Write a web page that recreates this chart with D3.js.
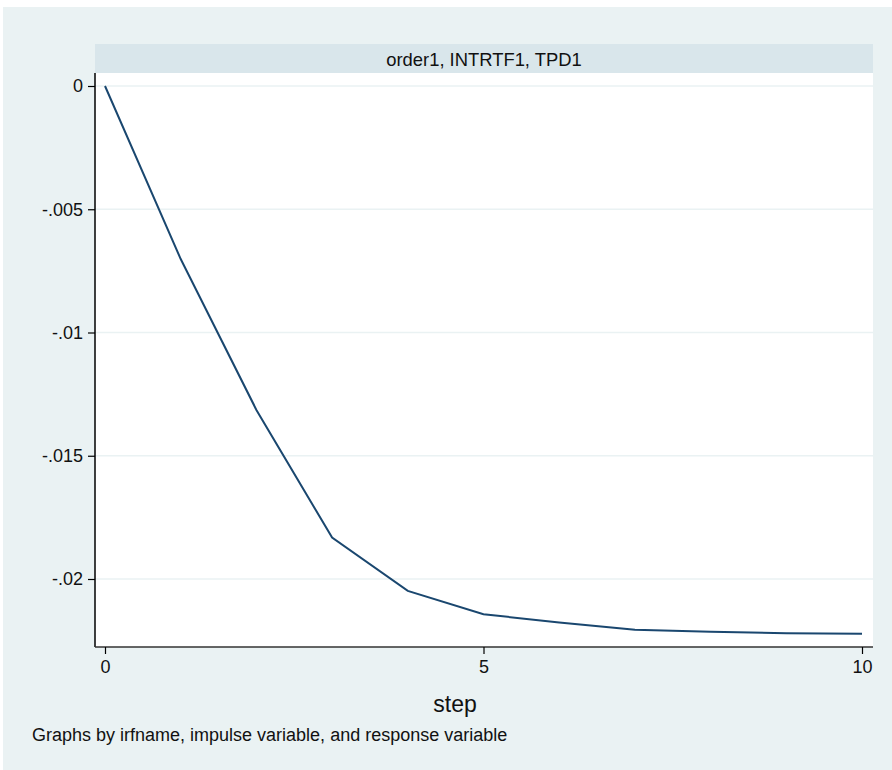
<!DOCTYPE html>
<html><head><meta charset="utf-8">
<script src="https://cdn.jsdelivr.net/npm/d3@7"></script>
<style>body{margin:0;background:#fff}svg{display:block}text{font-family:"Liberation Sans",Arial,sans-serif}</style>
</head><body>
<svg id="c" width="892" height="770"></svg>
<script>
const steps = [0,1,2,3,4,5,6,7,8,9,10];
const irf = [0,-0.00702,-0.01314,-0.01832,-0.02048,-0.02143,-0.02176,-0.02206,-0.02214,-0.0222,-0.02222];
const yTicks = [0,-0.005,-0.01,-0.015,-0.02];
const yTickLabels = ["0","-.005","-.01","-.015","-.02"];
const xTicks = [0,5,10];
const panelTitle = "order1, INTRTF1, TPD1";
const xTitle = "step";
const note = "Graphs by irfname, impulse variable, and response variable";

const svg = d3.select("#c");
svg.append("rect").attr("x",3).attr("y",7).attr("width",889).attr("height",763).attr("fill","#eaf2f3");

const L=95, R=873, T=73, B=647;
svg.append("rect").attr("x",L).attr("y",44).attr("width",R-L).attr("height",T-44).attr("fill","#d9e6eb");
svg.append("text").attr("x",(L+R)/2).attr("y",66).attr("text-anchor","middle").attr("font-size",18.4).attr("fill","#111").text(panelTitle);
svg.append("rect").attr("x",L).attr("y",T).attr("width",R-L).attr("height",B-T).attr("fill","#fff");

const x = d3.scaleLinear().domain([0,10]).range([105,862]);
const y = d3.scaleLinear().domain([0,-0.02]).range([86,579]);

svg.append("g").selectAll("line").data(yTicks).join("line")
  .attr("x1",L).attr("x2",R).attr("y1",d=>y(d)).attr("y2",d=>y(d))
  .attr("stroke","#eaf2f3").attr("stroke-width",1.5);

svg.append("path").datum(steps.map((s,i)=>[s,irf[i]]))
  .attr("fill","none").attr("stroke","#1a476f").attr("stroke-width",2)
  .attr("d",d3.line().x(d=>x(d[0])).y(d=>y(d[1])));

const ya = svg.append("g").attr("transform",`translate(${L},0)`)
  .call(d3.axisLeft(y).tickValues(yTicks).tickFormat((d,i)=>yTickLabels[i]).tickSize(7).tickPadding(5).tickSizeOuter(0));
ya.select(".domain").attr("d",`M0,${T}V${B}`).attr("stroke","#000").attr("stroke-width",1.5);
ya.selectAll(".tick line").attr("stroke","#000").attr("stroke-width",1.2);
ya.selectAll(".tick text").attr("font-size",18).attr("fill","#111").attr("font-family","Liberation Sans, Arial, sans-serif");

const xa = svg.append("g").attr("transform",`translate(0,${B})`)
  .call(d3.axisBottom(x).tickValues(xTicks).tickFormat(d3.format("d")).tickSize(7).tickPadding(6).tickSizeOuter(0));
xa.select(".domain").attr("d",`M${L},0H${R}`).attr("stroke","#333").attr("stroke-width",1.5);
xa.selectAll(".tick line").attr("stroke","#000").attr("stroke-width",1.2);
xa.selectAll(".tick text").attr("font-size",18).attr("fill","#111").attr("font-family","Liberation Sans, Arial, sans-serif");

svg.append("text").attr("x",455).attr("y",712).attr("text-anchor","middle").attr("font-size",23).attr("fill","#111").text(xTitle);
svg.append("text").attr("x",32).attr("y",741).attr("font-size",18).attr("fill","#111").text(note);
</script>
</body></html>
